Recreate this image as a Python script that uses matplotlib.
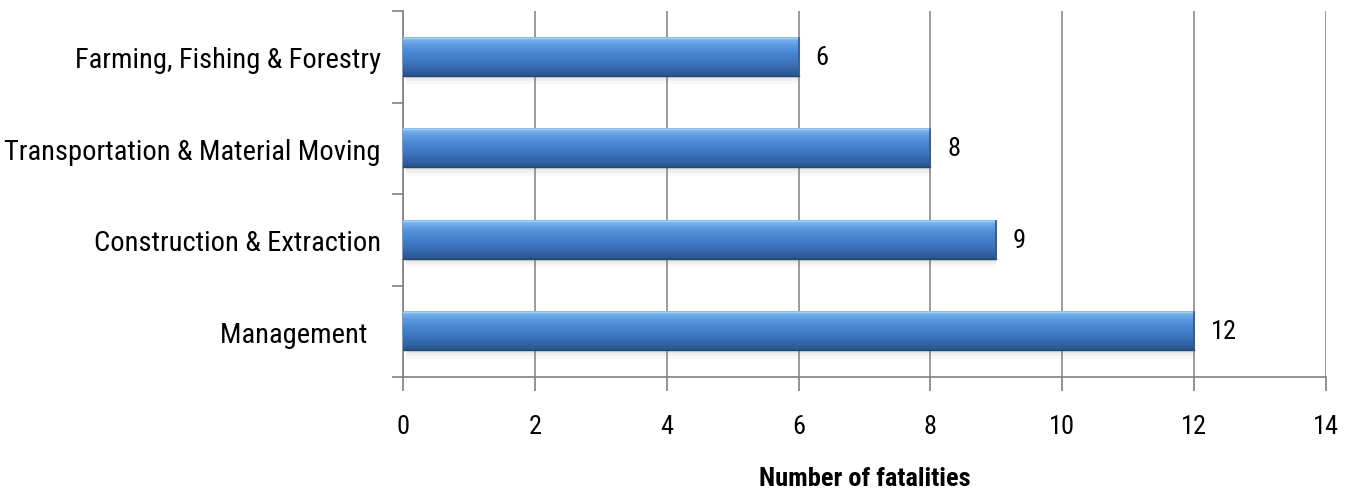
import matplotlib.pyplot as plt
import numpy as np
from matplotlib.colors import LinearSegmentedColormap

# data
categories = ['Management  ', 'Construction & Extraction',
              'Transportation & Material Moving', 'Farming, Fishing & Forestry']
fatalities = [12, 9, 8, 6]
x_ticks = [0, 2, 4, 6, 8, 10, 12, 14]

plt.rcParams['font.family'] = ['Roboto Condensed', 'Archivo Narrow', 'DejaVu Sans']

fig = plt.figure(figsize=(13.57, 4.89), dpi=100)
ax = fig.add_axes([403 / 1357, 1 - 378 / 489, 923 / 1357, 366 / 489])

ypos = np.arange(len(categories))
bar_h = 0.42

# cylinder-like shading, top light -> bottom dark
cmap = LinearSegmentedColormap.from_list(
    'cyl', ['#28558f', '#3568ad', '#4079c4', '#4a87d2', '#5d9ae0', '#86bcf0'])
grad = np.linspace(0, 1, 64).reshape(-1, 1)

for y, v in zip(ypos, fatalities):
    # soft shadow under the bar
    for k, a in enumerate([0.10, 0.07, 0.04]):
        ax.fill_between([0.05, v], y - bar_h / 2 - 0.03 - k * 0.03,
                        y - bar_h / 2, color='#8a7a6a', alpha=a, lw=0, zorder=2)
    ax.imshow(grad, cmap=cmap, aspect='auto', origin='lower',
              extent=(0, v, y - bar_h / 2, y + bar_h / 2), zorder=3)
    ax.plot([0, v], [y + bar_h / 2, y + bar_h / 2], color='#a4cdf4', lw=1, zorder=4)
    ax.plot([0, v], [y - bar_h / 2, y - bar_h / 2], color='#22466f', lw=1, zorder=4)
    ax.plot([v, v], [y - bar_h / 2, y + bar_h / 2], color='#2b5a96', lw=1.2, zorder=4)
    ax.annotate(str(v), (v, y), xytext=(12, 0), textcoords='offset points',
                ha='left', va='center', fontsize=19, color='black')

ax.set_xlim(0, 14)
ax.set_ylim(-0.5, len(categories) - 0.5)
ax.set_xticks(x_ticks)
ax.set_xticklabels([str(t) for t in x_ticks], fontsize=19)
ax.set_yticks(ypos)
ax.set_yticklabels(categories, fontsize=20.5)
ax.set_yticks(np.arange(-0.5, len(categories), 1), minor=True)
ax.tick_params(axis='y', which='major', length=0, pad=16)
ax.tick_params(axis='y', which='minor', length=8, color='#808080', width=1.2)
ax.tick_params(axis='x', length=10, color='#808080', width=1.2, pad=17)

ax.grid(axis='x', color='#808080', lw=1.1, zorder=1)
ax.set_axisbelow(True)
for s in ['top', 'right']:
    ax.spines[s].set_visible(False)
for s in ['left', 'bottom']:
    ax.spines[s].set_color('#808080')
    ax.spines[s].set_linewidth(1.2)

ax.set_xlabel('Number of fatalities', fontsize=19, fontweight='bold', labelpad=20)

fig.savefig('out.png', dpi=100)
